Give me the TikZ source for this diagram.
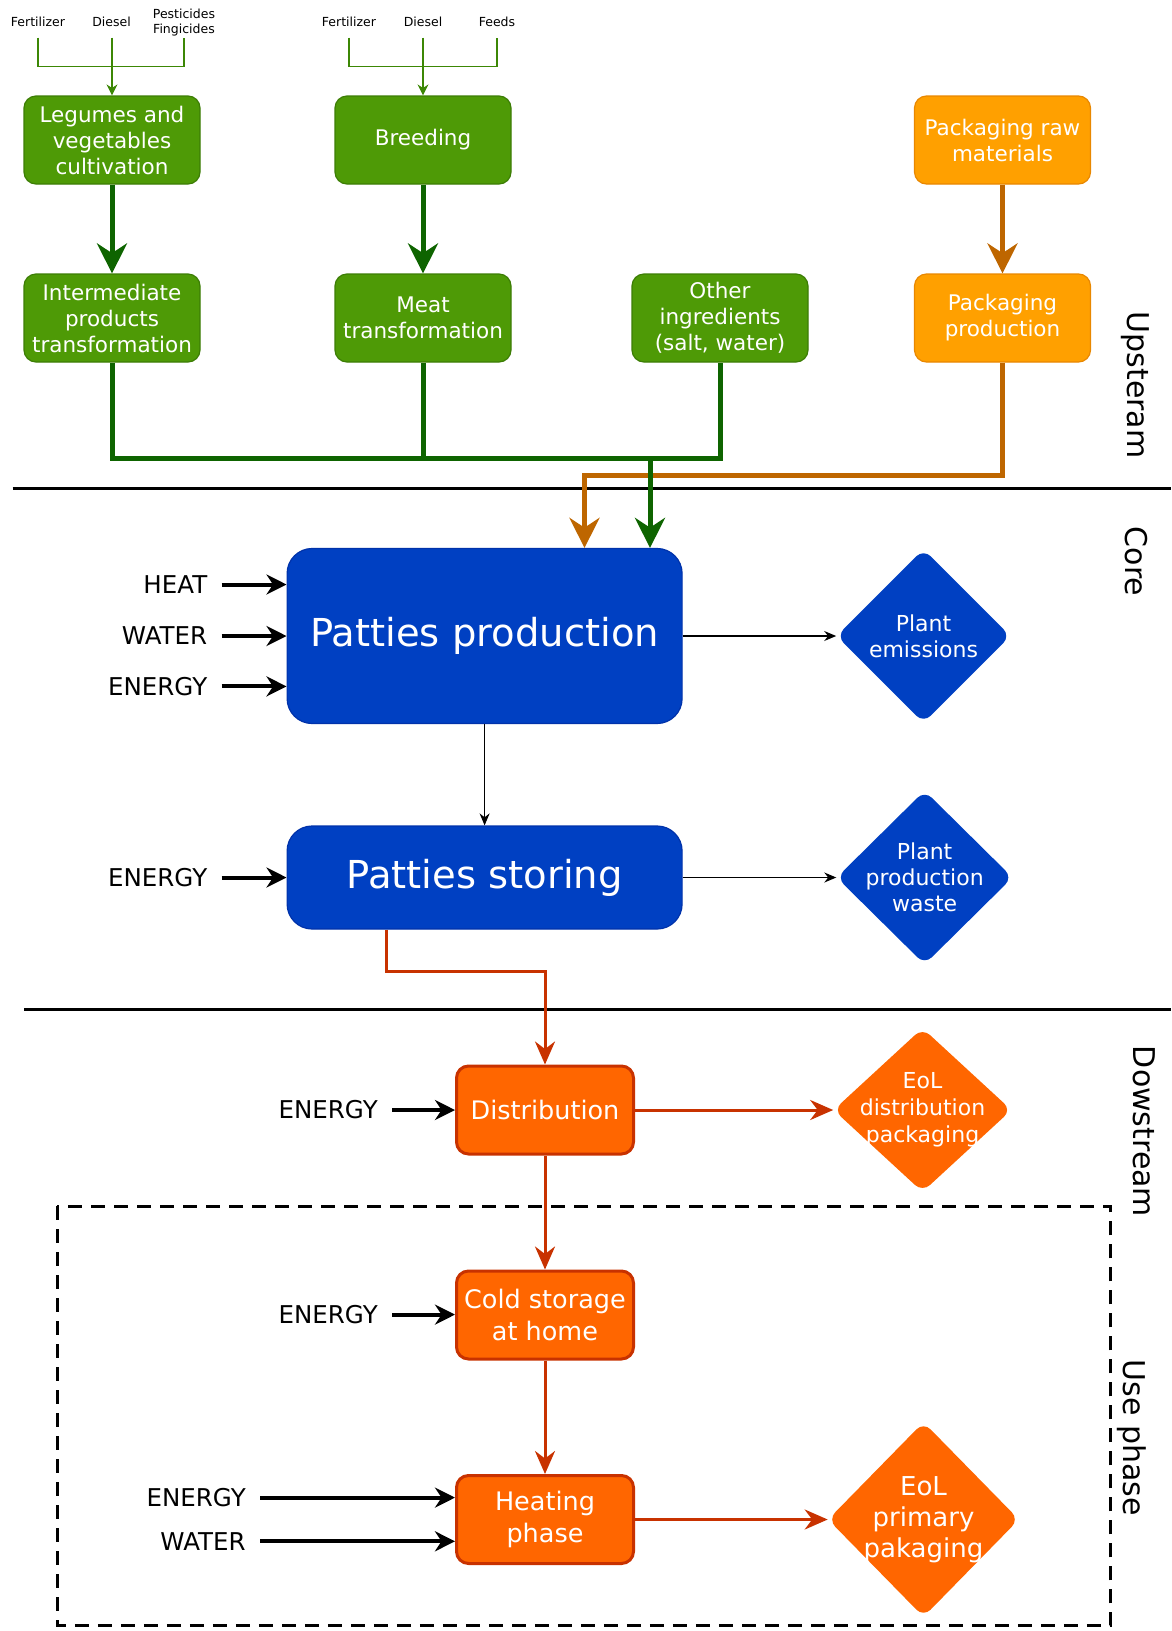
\documentclass[tikz,border=0pt]{standalone}
\usepackage{fontspec}
\setmainfont{DejaVu Sans}
\usepackage{tikz}
\usetikzlibrary{arrows.meta,shapes.geometric}

\definecolor{gfill}{RGB}{78,154,6}
\definecolor{gbord}{RGB}{60,125,5}
\definecolor{gthin}{RGB}{60,135,5}
\definecolor{gline}{RGB}{14,100,0}
\definecolor{ofill}{RGB}{255,160,0}
\definecolor{obord}{RGB}{232,135,0}
\definecolor{oline}{RGB}{190,102,0}
\definecolor{bfill}{RGB}{0,64,194}
\definecolor{bbord}{RGB}{0,50,170}
\definecolor{rfill}{RGB}{255,102,0}
\definecolor{rline}{RGB}{200,50,0}

\begin{document}
\begin{tikzpicture}[x=1pt,y=-1pt,>={Stealth[length=12pt,width=10pt]},
                    node distance=178pt,semithick]
  \tikzstyle{small}=[font=\fontsize{12.5}{15}\selectfont,align=center]
  \tikzstyle{gbox}=[rectangle,rounded corners=12pt,fill=gfill,draw=gbord,line width=1.2pt,
                    text=white,minimum width=176pt,minimum height=88pt,inner sep=3pt,
                    align=center,font=\fontsize{21.5}{26}\selectfont]
  \tikzstyle{obox}=[gbox,fill=ofill,draw=obord]
  \tikzstyle{bbox}=[rectangle,rounded corners=25pt,fill=bfill,draw=bbord,line width=1.2pt,
                    text=white,minimum width=395pt,font=\fontsize{38.5}{46}\selectfont]
  \tikzstyle{rbox}=[rectangle,rounded corners=12pt,fill=rfill,draw=rline,line width=3pt,
                    text=white,minimum width=177pt,minimum height=88pt,inner sep=3pt,
                    align=center,font=\fontsize{25.5}{31.5}\selectfont]
  \tikzstyle{outd}=[diamond,rounded corners=10pt,inner sep=0pt]
  \tikzstyle{dtext}=[text=white,align=center,font=\fontsize{22}{26}\selectfont]
  \tikzstyle{inlab}=[anchor=east,inner sep=0pt,font=\fontsize{24.5}{29}\selectfont]
  \tikzstyle{side}=[rotate=-90,font=\fontsize{30}{36}\selectfont]
  \tikzstyle{bigg}=[line width=5pt,-{Stealth[length=30pt,width=30pt]}]
  \tikzstyle{feed}=[draw=gthin,line width=1.3pt]
  \tikzstyle{inarr}=[line width=4pt,-{Stealth[length=20pt,width=20pt]},shorten <=14pt]
  \tikzstyle{rarr}=[draw=rline,line width=3pt,-{Stealth[length=23pt,width=20pt]}]
  \tikzstyle{thinarr}=[line width=1.3pt,->]

  \useasboundingbox (0,0) rectangle (1171,1631);

  % stage borders
  \draw[line width=3pt] (12.5,488.8) -- (1171,488.8);
  \draw[line width=3pt] (24,1009.8) -- (1171,1009.8);
  \draw[line width=3pt,dash pattern=on 14pt off 9pt] (57,1206.4) rectangle (1110.7,1625.5);

  \node[side] (up)   at (1135.7,385)  {Upsteram};
  \node[side] (core) at (1136,561.6)  {Core};
  \node[side] (down) at (1144,1131.5) {Dowstream};
  \node[side] (use)  at (1131.5,1438) {Use phase};

  % upstream
  \coordinate (top) at (0,37.5);
  \coordinate (bar) at (0,66.7);
  \node[small] (f1) at (38,22)   {Fertilizer};
  \node[small] (d1) at (111.5,22) {Diesel};
  \node[small] (p1) at (184,22.5) {Pesticides\\Fingicides};
  \node[small] (f2) at (349,22)  {Fertilizer};
  \node[small] (d2) at (423,22)  {Diesel};
  \node[small] (fe) at (497,22)  {Feeds};

  \node[gbox] (leg) at (112,140)    {Legumes and\\vegetables\\cultivation};
  \node[gbox] (bre) at (423,140)    {Breeding};
  \node[obox] (raw) at (1002.5,140) {Packaging raw\\materials};
  \node[gbox] (inter) [below of=leg] {Intermediate\\products\\transformation};
  \node[gbox] (meat)  [below of=bre] {Meat\\transformation};
  \node[gbox] (oth) at (720,318)     {Other\\ingredients\\(salt, water)};
  \node[obox] (pack)  [below of=raw] {Packaging\\production};

  \draw[feed] (f1 |- top) -- (f1 |- bar) -| (p1 |- top);
  \draw[feed,-{Stealth[length=11pt,width=11pt]}] (leg.north |- top) -- (leg.north);
  \draw[feed] (f2 |- top) -- (f2 |- bar) -| (fe |- top);
  \draw[feed,-{Stealth[length=11pt,width=11pt]}] (bre.north |- top) -- (bre.north);

  \draw[bigg,draw=gline] (leg) -- (inter);
  \draw[bigg,draw=gline] (bre) -- (meat);
  \draw[bigg,draw=oline] (raw) -- (pack);

  % core
  \node[bbox,minimum height=175pt] (prod) at (484.6,636) {Patties production};
  \node[bbox,minimum height=103pt] (stor) at (484.6,877.5) {Patties storing};
  \node[outd,fill=bfill,minimum width=174pt,minimum height=174pt,
        label={[dtext]center:Plant\\emissions}] (emis) at (923.5,636) {};
  \node[outd,fill=bfill,minimum width=176pt,minimum height=174pt,
        label={[dtext]center:Plant\\production\\waste}] (waste) at (924.6,877.5) {};

  \coordinate (gbus) at (0,458.6);
  \coordinate (gj) at (650,458.6);
  \coordinate (oj) at (584.5,475.3);
  \draw[draw=oline,bigg] (pack.south) |- (oj) -- (oj |- prod.north);
  \draw[draw=gline,line width=5pt] (inter.south) |- (oth.south |- gbus) -- (oth.south);
  \draw[draw=gline,line width=5pt] (meat.south) -- (meat.south |- gbus);
  \draw[draw=gline,bigg] (gj) -- (gj |- prod.north);

  \node[inlab] (hheat) at (207.5,584.5) {HEAT};
  \node[inlab] (hwat)  at (207.5,636) {WATER};
  \node[inlab] (hen1)  at (207.5,686.4) {ENERGY};
  \node[inlab] (hen2)  at (207.5,877.5) {ENERGY};
  \draw[inarr] (hheat) -- (hheat -| prod.west);
  \draw[inarr] (hwat) -- (hwat -| prod.west);
  \draw[inarr] (hen1) -- (hen1 -| prod.west);
  \draw[inarr] (hen2) -- (hen2 -| stor.west);

  \draw[thinarr] (prod) -- (emis);
  \draw[thinarr] (prod) -- (stor);
  \draw[thinarr] (stor) -- (waste);

  % downstream
  \node[rbox] (dist) at (545,1110) {Distribution};
  \node[rbox] (cold) [node distance=205pt,below of=dist] {Cold storage\\at home};
  \node[rbox] (heat) [node distance=204.5pt,below of=cold] {Heating\\phase};
  \node[outd,fill=rfill,minimum width=178pt,minimum height=164pt,
        label={[dtext,font=\fontsize{22}{27}\selectfont]center:EoL\\distribution\\packaging}] (eold) at (922.5,1110) {};
  \node[outd,fill=rfill,minimum width=191pt,minimum height=195pt,
        label={[dtext,font=\fontsize{26}{31}\selectfont]center:EoL\\primary\\pakaging}] (eolp) at (923.5,1519.5) {};

  \coordinate (rj) at (386.9,971.4);
  \draw[rarr] (stor.south -| rj) -- (rj) -| (dist.north);
  \draw[rarr] (dist) -- (eold);
  \draw[rarr] (dist) -- (cold);
  \draw[rarr] (cold) -- (heat);
  \draw[rarr] (heat) -- (eolp);

  \node[inlab] (hen3) at (378,1110)   {ENERGY};
  \node[inlab] (hen4) at (378,1314.6) {ENERGY};
  \node[inlab] (hen5) at (246,1497.6) {ENERGY};
  \node[inlab] (hwat2) at (246,1541.3) {WATER};
  \draw[inarr] (hen3) -- (hen3 -| dist.west);
  \draw[inarr] (hen4) -- (hen4 -| cold.west);
  \draw[inarr] (hen5) -- (hen5 -| heat.west);
  \draw[inarr] (hwat2) -- (hwat2 -| heat.west);
\end{tikzpicture}
\end{document}
